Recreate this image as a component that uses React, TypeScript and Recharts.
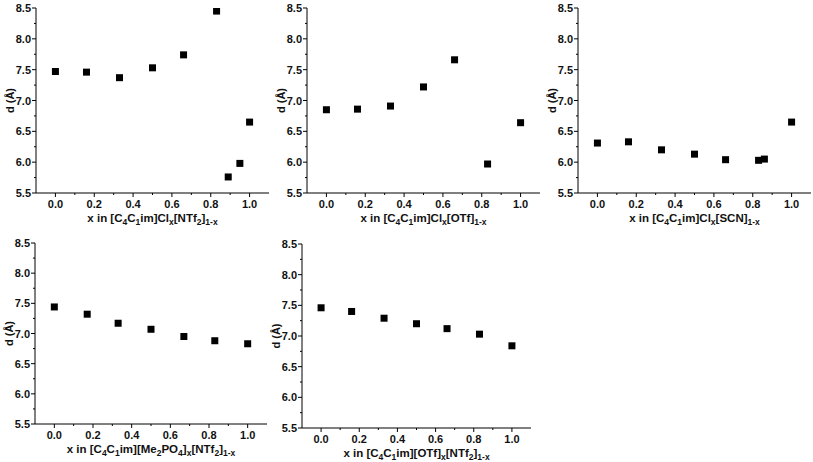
import { ScatterChart, Scatter, XAxis, YAxis } from 'recharts';

// composition x and d-spacing (Å) for each mixture
const p1x = [0, 0.16, 0.33, 0.5, 0.66, 0.83, 0.89, 0.95, 1.0];
const p1y = [7.47, 7.46, 7.37, 7.53, 7.74, 8.45, 5.76, 5.98, 6.65];
const p2x = [0, 0.16, 0.33, 0.5, 0.66, 0.83, 1.0];
const p2y = [6.85, 6.86, 6.91, 7.22, 7.66, 5.97, 6.64];
const p3x = [0, 0.16, 0.33, 0.5, 0.66, 0.83, 0.86, 1.0];
const p3y = [6.31, 6.33, 6.2, 6.13, 6.04, 6.03, 6.05, 6.65];
const p4x = [0, 0.17, 0.33, 0.5, 0.67, 0.83, 1.0];
const p4y = [7.44, 7.32, 7.17, 7.07, 6.95, 6.88, 6.83];
const p5x = [0, 0.16, 0.33, 0.5, 0.66, 0.83, 1.0];
const p5y = [7.46, 7.4, 7.29, 7.2, 7.12, 7.03, 6.84];

// "_x" or "_{1-x}" marks a subscript
const titles = [
  'x in [C_4C_1im]Cl_x[NTf_2]_{1-x}',
  'x in [C_4C_1im]Cl_x[OTf]_{1-x}',
  'x in [C_4C_1im]Cl_x[SCN]_{1-x}',
  'x in [C_4C_1im][Me_2PO_4]_x[NTf_2]_{1-x}',
  'x in [C_4C_1im][OTf]_x[NTf_2]_{1-x}',
];

const xTicks = [0, 0.1, 0.2, 0.3, 0.4, 0.5, 0.6, 0.7, 0.8, 0.9, 1.0];
const yTicks = [5.5, 5.75, 6.0, 6.25, 6.5, 6.75, 7.0, 7.25, 7.5, 7.75, 8.0, 8.25, 8.5];

const FONT = '"Liberation Sans", Arial, sans-serif';

// plot-area boxes in page pixels
const panels = [
  { xs: p1x, ys: p1y, left: 36, top: 8, right: 269, bottom: 193 },
  { xs: p2x, ys: p2y, left: 307, top: 8, right: 540, bottom: 193 },
  { xs: p3x, ys: p3y, left: 578, top: 8, right: 811, bottom: 193 },
  { xs: p4x, ys: p4y, left: 35, top: 243, right: 267, bottom: 424 },
  { xs: p5x, ys: p5y, left: 302, top: 244, right: 531, bottom: 428 },
];

function parseTitle(s: string) {
  const parts: { t: string; sub: boolean }[] = [];
  let buf = '';
  let i = 0;
  while (i < s.length) {
    if (s[i] === '_') {
      if (buf) parts.push({ t: buf, sub: false });
      buf = '';
      if (s[i + 1] === '{') {
        const end = s.indexOf('}', i);
        parts.push({ t: s.slice(i + 2, end), sub: true });
        i = end + 1;
      } else {
        parts.push({ t: s[i + 1], sub: true });
        i += 2;
      }
    } else {
      buf += s[i];
      i++;
    }
  }
  if (buf) parts.push({ t: buf, sub: false });
  return parts;
}

const XTick = (props: any) => {
  const { x, y, payload } = props;
  const v = payload.value;
  const major = Math.round(v * 10) % 2 === 0;
  return (
    <g>
      <line x1={x} x2={x} y1={y} y2={y + (major ? 4 : 2)} stroke="#000" strokeWidth={1} />
      {major && (
        <text x={x} y={y + 15} textAnchor="middle" fontSize={11} fontWeight="bold" fontFamily={FONT} fill="#111">
          {v.toFixed(1)}
        </text>
      )}
    </g>
  );
};

const YTick = (props: any) => {
  const { x, y, payload } = props;
  const v = payload.value;
  const major = Math.round(v * 4) % 2 === 0;
  return (
    <g>
      <line x1={x} x2={x - (major ? 4 : 2)} y1={y} y2={y} stroke="#000" strokeWidth={1} />
      {major && (
        <text x={x - 5} y={y + 4} textAnchor="end" fontSize={11} fontWeight="bold" fontFamily={FONT} fill="#111">
          {v.toFixed(1)}
        </text>
      )}
    </g>
  );
};

const Square = (props: any) => {
  const { cx, cy } = props;
  return <rect x={cx - 3.5} y={cy - 3.5} width={7} height={7} fill="#000" />;
};

function Panel({ idx }: { idx: number }) {
  const p = panels[idx];
  const data = p.xs.map((x, i) => ({ x, y: p.ys[i] }));
  const parts = parseTitle(titles[idx]);
  const w = p.right - p.left + 36 + 2;
  const h = p.bottom - p.top + 8 + 40;

  const xTitle = (lp: any) => {
    const vb = lp.viewBox;
    let shift = 0;
    return (
      <text x={vb.x + vb.width / 2} y={vb.y + 29} textAnchor="middle" fontSize={11.5} fontWeight="bold" fontFamily={FONT} fill="#111">
        {parts.map((pt, k) => {
          const dy = (pt.sub ? 3 : 0) - shift;
          shift = pt.sub ? 3 : 0;
          return (
            <tspan key={k} dy={dy} fontSize={pt.sub ? 8.5 : 11.5}>
              {pt.t}
            </tspan>
          );
        })}
      </text>
    );
  };

  const yTitle = (lp: any) => {
    const vb = lp.viewBox;
    const cx = vb.x + 10;
    const cy = vb.y + vb.height / 2;
    return (
      <text x={cx} y={cy} transform={`rotate(-90 ${cx} ${cy})`} textAnchor="middle" dominantBaseline="central" fontSize={11} fontWeight="bold" fontFamily={FONT} fill="#111">
        d (Å)
      </text>
    );
  };

  return (
    <div style={{ position: 'absolute', left: p.left - 36, top: p.top - 8 }}>
      <ScatterChart width={w} height={h} margin={{ top: 8, right: 2, left: 0, bottom: 0 }}>
        <XAxis
          type="number"
          dataKey="x"
          domain={[-0.1, 1.1]}
          allowDataOverflow
          ticks={xTicks}
          interval={0}
          tickSize={0}
          tickMargin={0}
          tickLine={false}
          tick={XTick}
          height={40}
          axisLine={{ stroke: '#000', strokeWidth: 1 }}
          label={xTitle}
        />
        <YAxis
          type="number"
          dataKey="y"
          domain={[5.5, 8.5]}
          allowDataOverflow
          ticks={yTicks}
          interval={0}
          tickSize={0}
          tickMargin={0}
          tickLine={false}
          tick={YTick}
          width={36}
          axisLine={{ stroke: '#000', strokeWidth: 1 }}
          label={yTitle}
        />
        <Scatter data={data} shape={Square} isAnimationActive={false} />
      </ScatterChart>
    </div>
  );
}

export default function App() {
  return (
    <div style={{ position: 'absolute', left: 0, top: 0, width: 813, height: 462, background: '#fff', overflow: 'hidden' }}>
      {panels.map((_, i) => (
        <Panel key={i} idx={i} />
      ))}
    </div>
  );
}
